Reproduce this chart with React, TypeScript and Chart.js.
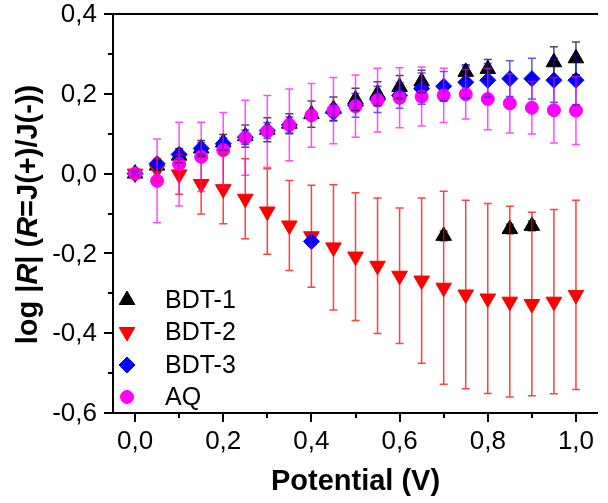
import React, { useEffect, useRef } from "react";
import { Chart, registerables } from "chart.js";

Chart.register(...registerables);

// ---------- data ----------
const potentials = [0, 0.05, 0.1, 0.15, 0.2, 0.25, 0.3, 0.35, 0.4, 0.45, 0.5, 0.55, 0.6, 0.65, 0.7, 0.75, 0.8, 0.85, 0.9, 0.95, 1.0];

const bdt1 = [0, 0.02, 0.045, 0.063, 0.078, 0.094, 0.11, 0.125, 0.149, 0.162, 0.186, 0.2, 0.217, 0.231, -0.156, 0.255, 0.262, -0.139, -0.131, 0.279, 0.289];
const bdt1Err = [0.005, 0.012, 0.018, 0.02, 0.02, 0.028, 0.03, 0.025, 0.033, 0.03, 0.028, 0.03, 0.029, 0.028, 0.012, 0.018, 0.024, 0.012, 0.012, 0.039, 0.041];

const bdt2 = [0, 0.01, -0.002, -0.026, -0.039, -0.063, -0.095, -0.13, -0.157, -0.185, -0.208, -0.231, -0.256, -0.268, -0.286, -0.303, -0.313, -0.321, -0.327, -0.321, -0.304];
const bdt2Err = [0.01, 0.028, 0.05, 0.075, 0.087, 0.1, 0.107, 0.113, 0.128, 0.157, 0.16, 0.17, 0.17, 0.207, 0.242, 0.236, 0.238, 0.239, 0.23, 0.231, 0.237];

const bdt3 = [0, 0.025, 0.048, 0.063, 0.075, 0.091, 0.108, 0.122, -0.17, 0.154, 0.171, 0.186, 0.196, 0.213, 0.219, 0.229, 0.234, 0.238, 0.238, 0.234, 0.234];
const bdt3Err = [0.005, 0.01, 0.012, 0.015, 0.015, 0.018, 0.02, 0.02, 0.01, 0.02, 0.03, 0.033, 0.032, 0.039, 0.037, 0.04, 0.042, 0.045, 0.051, 0.055, 0.062];

const aq = [0, -0.018, 0.024, 0.042, 0.059, 0.09, 0.106, 0.122, 0.146, 0.158, 0.169, 0.184, 0.19, 0.193, 0.196, 0.199, 0.187, 0.176, 0.165, 0.159, 0.158];
const aqErr = [0.005, 0.105, 0.105, 0.087, 0.094, 0.094, 0.09, 0.09, 0.08, 0.083, 0.078, 0.08, 0.075, 0.074, 0.068, 0.062, 0.077, 0.074, 0.066, 0.082, 0.085];

const seriesNames = ["BDT-1", "BDT-2", "BDT-3", "AQ"];

const xMajorTicks = [0, 0.2, 0.4, 0.6, 0.8, 1.0];
const xMajorLabels = ["0,0", "0,2", "0,4", "0,6", "0,8", "1,0"];
const xMinorTicks = [0.1, 0.3, 0.5, 0.7, 0.9];

const yMajorTicks = [0.4, 0.2, 0, -0.2, -0.4, -0.6];
const yMajorLabels = ["0,4", "0,2", "0,0", "-0,2", "-0,4", "-0,6"];
const yMinorTicks = [0.3, 0.1, -0.1, -0.3, -0.5];

const xTitle = "Potential (V)";
// y title segments: [text, italic]
const yTitleParts: [string, boolean][] = [
  ["log |", false],
  ["R", true],
  ["| (", false],
  ["R", true],
  ["=J(+)/J(-))", false],
];

// ---------- styles ----------
const FONT = '"Liberation Sans", Arial, Helvetica, sans-serif';
const colors = ["#000000", "#ff0000", "#0000ff", "#ff00ff"];
const errColors = ["rgba(0,0,0,0.7)", "rgba(255,0,0,0.75)", "rgba(0,0,255,0.65)", "rgba(255,0,255,0.7)"];
const markerKinds = ["up", "down", "diamond", "circle"];
const values = [bdt1, bdt2, bdt3, aq];
const errors = [bdt1Err, bdt2Err, bdt3Err, aqErr];

function drawMarker(ctx: CanvasRenderingContext2D, kind: string, x: number, y: number, color: string) {
  ctx.save();
  ctx.fillStyle = color;
  ctx.strokeStyle = color;
  ctx.lineWidth = 1;
  ctx.beginPath();
  if (kind === "up" || kind === "down") {
    const r = 9;
    const s = kind === "up" ? 1 : -1;
    for (let k = 0; k < 3; k++) {
      const a = (k * 2 * Math.PI) / 3;
      const px = x + r * Math.sin(a);
      const py = y - s * r * Math.cos(a);
      if (k === 0) ctx.moveTo(px, py);
      else ctx.lineTo(px, py);
    }
    ctx.closePath();
  } else if (kind === "diamond") {
    const r = 8;
    ctx.moveTo(x, y - r);
    ctx.lineTo(x + r, y);
    ctx.lineTo(x, y + r);
    ctx.lineTo(x - r, y);
    ctx.closePath();
  } else {
    ctx.arc(x, y, 6.5, 0, Math.PI * 2);
  }
  ctx.fill();
  ctx.stroke();
  ctx.restore();
}

const framePlugin = {
  id: "frameAndText",
  afterDatasetsDraw(chart: any) {
    const { ctx, scales } = chart;
    const xs = scales.x;
    const ys = scales.y;
    ctx.save();
    ctx.lineWidth = 1.5;
    for (let s = 0; s < values.length; s++) {
      ctx.strokeStyle = errColors[s];
      for (let i = 0; i < potentials.length; i++) {
        const px = xs.getPixelForValue(potentials[i]);
        const top = ys.getPixelForValue(values[s][i] + errors[s][i]);
        const bot = ys.getPixelForValue(values[s][i] - errors[s][i]);
        ctx.beginPath();
        ctx.moveTo(px, top);
        ctx.lineTo(px, bot);
        ctx.moveTo(px - 4, top);
        ctx.lineTo(px + 4, top);
        ctx.moveTo(px - 4, bot);
        ctx.lineTo(px + 4, bot);
        ctx.stroke();
      }
    }
    ctx.restore();
  },
  afterDraw(chart: any) {
    const { ctx, chartArea: a, scales } = chart;
    const xs = scales.x;
    const ys = scales.y;
    ctx.save();
    ctx.strokeStyle = "#000";
    ctx.lineWidth = 2;
    ctx.beginPath();
    ctx.moveTo(a.left, a.top);
    ctx.lineTo(a.left, a.bottom);
    ctx.lineTo(a.right, a.bottom);
    ctx.moveTo(a.left - 1, a.top);
    ctx.lineTo(a.right, a.top);
    // y ticks
    yMajorTicks.forEach((v) => {
      const py = Math.round(ys.getPixelForValue(v));
      ctx.moveTo(a.left, py);
      ctx.lineTo(a.left - 9, py);
    });
    yMinorTicks.forEach((v) => {
      const py = Math.round(ys.getPixelForValue(v));
      ctx.moveTo(a.left, py);
      ctx.lineTo(a.left - 5, py);
    });
    xMajorTicks.forEach((v) => {
      const px = Math.round(xs.getPixelForValue(v));
      ctx.moveTo(px, a.bottom);
      ctx.lineTo(px, a.bottom + 9);
    });
    xMinorTicks.forEach((v) => {
      const px = Math.round(xs.getPixelForValue(v));
      ctx.moveTo(px, a.bottom);
      ctx.lineTo(px, a.bottom + 5);
    });
    ctx.stroke();

    ctx.fillStyle = "#000";
    ctx.font = `26px ${FONT}`;
    ctx.textAlign = "right";
    ctx.textBaseline = "middle";
    yMajorTicks.forEach((v, i) => {
      ctx.fillText(yMajorLabels[i], a.left - 16, ys.getPixelForValue(v) + 1);
    });
    ctx.textAlign = "center";
    xMajorTicks.forEach((v, i) => {
      ctx.fillText(xMajorLabels[i], xs.getPixelForValue(v), a.bottom + 29);
    });

    // x title
    ctx.font = `bold 29px ${FONT}`;
    ctx.fillText(xTitle, (a.left + a.right) / 2, 482);

    // y title with italic R
    ctx.save();
    ctx.translate(29, (a.top + a.bottom) / 2 + 1);
    ctx.rotate(-Math.PI / 2);
    const fontFor = (it: boolean) => `${it ? "italic " : ""}bold 29px ${FONT}`;
    let total = 0;
    yTitleParts.forEach(([t, it]) => {
      ctx.font = fontFor(it);
      total += ctx.measureText(t).width;
    });
    let cx = -total / 2;
    ctx.textAlign = "left";
    yTitleParts.forEach(([t, it]) => {
      ctx.font = fontFor(it);
      ctx.fillText(t, cx, 0);
      cx += ctx.measureText(t).width;
    });
    ctx.restore();

    // legend
    const rowsY = [300, 332, 365, 397];
    ctx.font = `25px ${FONT}`;
    ctx.textAlign = "left";
    ctx.textBaseline = "middle";
    seriesNames.forEach((name, i) => {
      drawMarker(ctx, markerKinds[i], 127, rowsY[i], colors[i]);
      ctx.fillStyle = "#000";
      ctx.fillText(name, 165, rowsY[i] + 1);
    });
    ctx.restore();
  },
};

export default function App() {
  const ref = useRef<HTMLCanvasElement | null>(null);
  useEffect(() => {
    if (!ref.current) return;
    const mk = (s: number) => potentials.map((x, i) => ({ x, y: values[s][i] }));
    const chart = new Chart(ref.current, {
      type: "scatter",
      data: {
        datasets: [
          {
            label: seriesNames[0],
            data: mk(0),
            pointStyle: "triangle",
            pointRadius: 9,
            backgroundColor: colors[0],
            borderColor: colors[0],
            borderWidth: 1,
            order: 4,
          },
          {
            label: seriesNames[1],
            data: mk(1),
            pointStyle: "triangle",
            rotation: 180,
            pointRotation: 180,
            pointRadius: 9,
            backgroundColor: colors[1],
            borderColor: colors[1],
            borderWidth: 1,
            order: 3,
          },
          {
            label: seriesNames[2],
            data: mk(2),
            pointStyle: "rectRot",
            pointRadius: 8,
            backgroundColor: colors[2],
            borderColor: colors[2],
            borderWidth: 1,
            order: 2,
          },
          {
            label: seriesNames[3],
            data: mk(3),
            pointStyle: "circle",
            pointRadius: 6.5,
            backgroundColor: colors[3],
            borderColor: colors[3],
            borderWidth: 1,
            order: 1,
          },
        ] as any,
      },
      options: {
        animation: false,
        responsive: false,
        devicePixelRatio: 1,
        layout: { padding: { left: 113, top: 14, right: 0, bottom: 90 } },
        plugins: { legend: { display: false }, tooltip: { enabled: false } },
        scales: {
          x: { type: "linear", min: -0.05, max: 1.05, display: false },
          y: { type: "linear", min: -0.6, max: 0.4, display: false },
        },
      },
      plugins: [framePlugin],
    });
    return () => chart.destroy();
  }, []);
  return (
    <div style={{ position: "absolute", left: 0, top: 0, width: 608, height: 503, background: "#fff" }}>
      <canvas ref={ref} width={608} height={503} style={{ display: "block" }} />
    </div>
  );
}
